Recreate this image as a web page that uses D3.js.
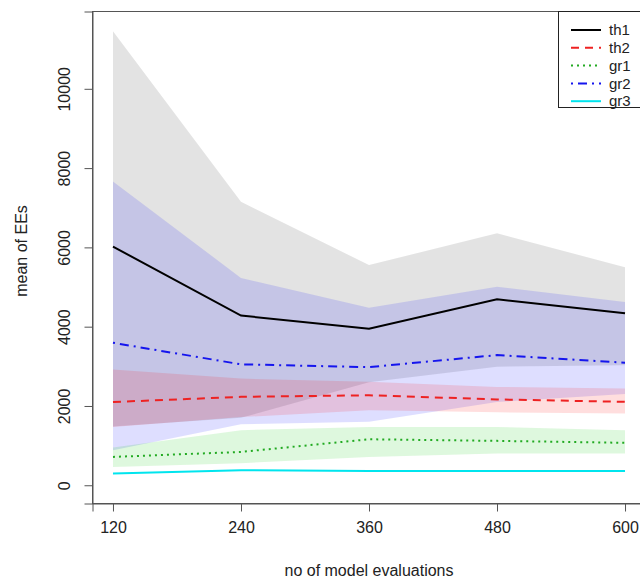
<!DOCTYPE html>
<html><head><meta charset="utf-8">
<script src="https://cdn.jsdelivr.net/npm/d3@7"></script>
<style>
html,body{margin:0;padding:0;background:#fff;}
svg{display:block;font-family:"Liberation Sans",Arial,sans-serif;}
</style></head>
<body><svg id="chart" width="640" height="583"></svg>
<script>
// ---- data ----
const evals = [120, 240, 360, 480, 600];
const th1 = [6020, 4280, 3950, 4690, 4340];
const th1Lo = [1480, 1700, 2600, 2990, 3030];
const th1Hi = [11450, 7150, 5555, 6355, 5500];
const th2 = [2100, 2230, 2270, 2165, 2105];
const th2Lo = [1470, 1720, 1890, 1840, 1810];
const th2Hi = [2920, 2690, 2610, 2480, 2440];
const gr1 = [715, 841, 1160, 1120, 1070];
const gr1Lo = [462, 555, 715, 800, 800];
const gr1Hi = [950, 1390, 1470, 1470, 1390];
const gr2 = [3595, 3050, 2980, 3283, 3090];
const gr2Lo = [884, 1540, 1600, 2100, 2300];
const gr2Hi = [7660, 5230, 4480, 5010, 4620];
const gr3 = [295, 379, 361, 361, 361];
const yTicks = [0, 2000, 4000, 6000, 8000, 10000];
const seriesNames = ["th1", "th2", "gr1", "gr2", "gr3"];

// ---- styles ----
const lineCol = {th1:"#000000", th2:"#ee2222", gr1:"#22aa22", gr2:"#1515ee", gr3:"#00e5ee"};
const dash = {th1:null, th2:"8,6", gr1:"2,4", gr2:"2,5,9,5", gr3:null};
const bandFill = {th1:["#000000",0.11], gr2:["#0000ff",0.13], th2:["#ff0000",0.13], gr1:["#00cc00",0.13]};

const svg = d3.select("#chart");
const x = d3.scaleLinear().domain([100.8, 619.2]).range([92.5, 645.5]);
const y = d3.scaleLinear().domain([-460, 11950]).range([503.5, 11.5]);

const bands = [
  ["th1", th1Lo, th1Hi],
  ["gr2", gr2Lo, gr2Hi],
  ["th2", th2Lo, th2Hi],
  ["gr1", gr1Lo, gr1Hi]
];
const area = d3.area().x(d => x(d.x)).y0(d => y(d.lo)).y1(d => y(d.hi));
bands.forEach(([k, lo, hi]) => {
  const pts = evals.map((e, i) => ({x: e, lo: lo[i], hi: hi[i]}));
  svg.append("path").attr("d", area(pts))
    .attr("fill", bandFill[k][0]).attr("fill-opacity", bandFill[k][1]);
});

const line = d3.line().x(d => x(d.x)).y(d => y(d.v));
const series = {th1, th2, gr1, gr2, gr3};
seriesNames.forEach(k => {
  const pts = evals.map((e, i) => ({x: e, v: series[k][i]}));
  svg.append("path").attr("d", line(pts)).attr("fill", "none")
    .attr("stroke", lineCol[k]).attr("stroke-width", 2)
    .attr("stroke-dasharray", dash[k]);
});

// box
svg.append("rect").attr("x", 92.5).attr("y", 11.5).attr("width", 553).attr("height", 492)
  .attr("fill", "none").attr("stroke", "#555").attr("stroke-width", 1);

// axes
const xAxis = d3.axisBottom(x).tickValues(evals).tickSize(8).tickPadding(10).tickFormat(d3.format("d"));
const gx = svg.append("g").attr("transform", "translate(0,503.5)").call(xAxis);
gx.select(".domain").attr("stroke", "#555");
gx.selectAll(".tick line").attr("stroke", "#555");
gx.selectAll("text").attr("font-size", 16).attr("fill", "#222")
  .attr("font-family", "Liberation Sans, Arial, sans-serif");

const yAxis = d3.axisLeft(y).tickValues(yTicks).tickSize(8).tickFormat(d3.format("d"));
const gy = svg.append("g").attr("transform", "translate(92.5,0)").call(yAxis);
gy.select(".domain").attr("stroke", "#555");
gy.selectAll(".tick line").attr("stroke", "#555");
gy.selectAll("text").attr("font-size", 16).attr("fill", "#222")
  .attr("font-family", "Liberation Sans, Arial, sans-serif")
  .attr("transform", "rotate(-90)").attr("x", 0).attr("y", -28)
  .attr("dy", "0.35em").attr("text-anchor", "middle");

svg.append("text").attr("x", 369).attr("y", 576).attr("text-anchor", "middle")
  .attr("font-size", 16).attr("fill", "#222").text("no of model evaluations");
svg.append("text").attr("transform", "translate(21,251) rotate(-90)")
  .attr("text-anchor", "middle").attr("dy", "0.35em")
  .attr("font-size", 16).attr("fill", "#222").text("mean of EEs");

// legend
const lg = svg.append("g");
lg.append("rect").attr("x", 558.5).attr("y", 11.5).attr("width", 100).attr("height", 96)
  .attr("fill", "#fff").attr("stroke", "#222").attr("stroke-width", 1);
seriesNames.forEach((k, i) => {
  const yy = 30 + i * 17.8;
  lg.append("line").attr("x1", 571).attr("x2", 601).attr("y1", yy).attr("y2", yy)
    .attr("stroke", lineCol[k]).attr("stroke-width", 2).attr("stroke-dasharray", dash[k]);
  lg.append("text").attr("x", 609).attr("y", yy).attr("dy", "0.35em")
    .attr("font-size", 15).attr("fill", "#222").text(k);
});
</script></body></html>
